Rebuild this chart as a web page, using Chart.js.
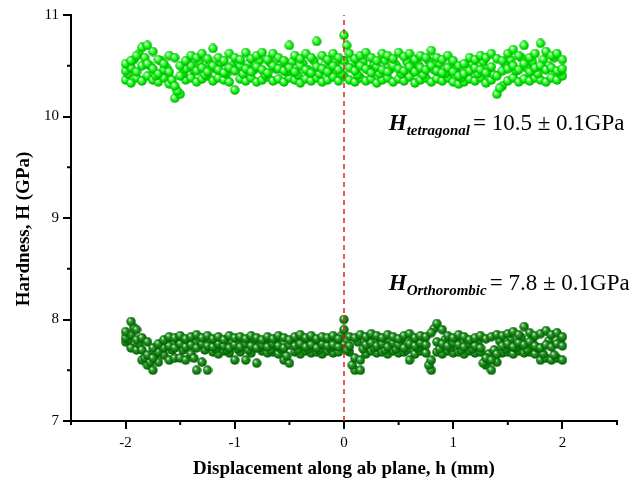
<!DOCTYPE html>
<html>
<head>
<meta charset="utf-8">
<script src="https://cdn.jsdelivr.net/npm/chart.js@4.4.1/dist/chart.umd.min.js"></script>
<style>
  body { margin: 0; background: #fff; }
  #wrap { width: 641px; height: 483px; }
</style>
</head>
<body>
<div id="wrap"><canvas id="hardnessChart" width="641" height="483"></canvas></div>
<script>
// Displacement positions (mm)
const xs = [
  -2.00,-1.95,-1.90,-1.85,-1.80,-1.75,-1.70,-1.65,-1.60,-1.55,
  -1.50,-1.45,-1.40,-1.35,-1.30,-1.25,-1.20,-1.15,-1.10,-1.05,
  -1.00,-0.95,-0.90,-0.85,-0.80,-0.75,-0.70,-0.65,-0.60,-0.55,
  -0.50,-0.45,-0.40,-0.35,-0.30,-0.25,-0.20,-0.15,-0.10,-0.05,
   0.00, 0.05, 0.10, 0.15, 0.20, 0.25, 0.30, 0.35, 0.40, 0.45,
   0.50, 0.55, 0.60, 0.65, 0.70, 0.75, 0.80, 0.85, 0.90, 0.95,
   1.00, 1.05, 1.10, 1.15, 1.20, 1.25, 1.30, 1.35, 1.40, 1.45,
   1.50, 1.55, 1.60, 1.65, 1.70, 1.75, 1.80, 1.85, 1.90, 1.95,
   2.00
];
// in-between scan positions (mm)
const xsMid = [
  -1.975,-1.925,-1.875,-1.825,-1.775,-1.725,-1.675,-1.625,-1.575,-1.525,
  -1.475,-1.425,-1.375,-1.325,-1.275,-1.225,-1.175,-1.125,-1.075,-1.025,
  -0.975,-0.925,-0.875,-0.825,-0.775,-0.725,-0.675,-0.625,-0.575,-0.525,
  -0.475,-0.425,-0.375,-0.325,-0.275,-0.225,-0.175,-0.125,-0.075,-0.025,
   0.025, 0.075, 0.125, 0.175, 0.225, 0.275, 0.325, 0.375, 0.425, 0.475,
   0.525, 0.575, 0.625, 0.675, 0.725, 0.775, 0.825, 0.875, 0.925, 0.975,
   1.025, 1.075, 1.125, 1.175, 1.225, 1.275, 1.325, 1.375, 1.425, 1.475,
   1.525, 1.575, 1.625, 1.675, 1.725, 1.775, 1.825, 1.875, 1.925, 1.975
];

// Tetragonal hardness (GPa)
const topA = [
  10.52,10.55,10.60,10.68,10.70,10.64,10.56,10.52,10.60,10.58,
  10.50,10.55,10.60,10.58,10.62,10.57,10.67,10.58,10.55,10.62,
  10.58,10.56,10.63,10.57,10.60,10.63,10.56,10.62,10.58,10.55,
  10.70,10.60,10.57,10.62,10.58,10.74,10.60,10.56,10.62,10.58,
  10.80,10.62,10.57,10.60,10.63,10.58,10.55,10.62,10.60,10.57,
  10.63,10.59,10.62,10.56,10.60,10.58,10.65,10.58,10.56,10.60,
  10.55,10.50,10.52,10.58,10.56,10.60,10.58,10.62,10.57,10.55,
  10.62,10.66,10.60,10.70,10.58,10.62,10.72,10.64,10.60,10.62,
  10.56
];
const topB = [
  10.45,10.48,10.44,10.50,10.52,10.47,10.42,10.46,10.44,10.30,
  10.40,10.47,10.50,10.45,10.48,10.44,10.50,10.46,10.43,10.48,
  10.45,10.50,10.47,10.44,10.49,10.46,10.43,10.50,10.47,10.45,
  10.48,10.44,10.50,10.46,10.43,10.49,10.47,10.44,10.50,10.46,
  10.55,10.48,10.45,10.50,10.47,10.43,10.49,10.46,10.44,10.50,
  10.47,10.45,10.49,10.44,10.48,10.46,10.50,10.45,10.43,10.48,
  10.44,10.40,10.42,10.45,10.48,10.46,10.43,10.49,10.40,10.45,
  10.47,10.50,10.46,10.52,10.44,10.48,10.50,10.46,10.48,10.45,
  10.47
];
const topC = [
  10.36,10.33,10.38,10.35,10.40,10.36,10.34,10.38,10.32,10.18,
  10.22,10.36,10.38,10.34,10.37,10.40,10.35,10.38,10.36,10.34,
  10.26,10.37,10.35,10.38,10.34,10.36,10.39,10.35,10.37,10.34,
  10.38,10.36,10.33,10.37,10.35,10.38,10.34,10.36,10.39,10.35,
  10.40,10.36,10.34,10.38,10.35,10.37,10.33,10.36,10.38,10.34,
  10.37,10.35,10.39,10.33,10.36,10.38,10.34,10.37,10.35,10.38,
  10.34,10.32,10.34,10.37,10.35,10.38,10.33,10.36,10.22,10.30,
  10.35,10.38,10.34,10.37,10.35,10.38,10.36,10.34,10.38,10.36,
  10.40
];
const topD = [
  10.42,10.56,10.62,10.58,10.50,10.40,10.55,10.48,10.36,10.25,
  10.42,10.52,10.46,10.54,10.41,10.52,10.47,10.53,10.42,10.50,
  10.54,10.42,10.52,10.46,10.55,10.41,10.53,10.47,10.52,10.44,
  10.54,10.41,10.52,10.46,10.55,10.42,10.51,10.47,10.53,10.42,
  10.70,10.52,10.41,10.54,10.46,10.52,10.42,10.55,10.47,10.51,
  10.42,10.54,10.47,10.52,10.41,10.55,10.46,10.52,10.42,10.50,
  10.46,10.38,10.45,10.52,10.42,10.54,10.47,10.41,10.28,10.52,
  10.56,10.45,10.58,10.48,10.54,10.42,10.56,10.50,10.58,10.44
];

// Orthorhombic hardness (GPa)
const botA = [
  7.88,7.98,7.90,7.82,7.78,7.72,7.76,7.80,7.83,7.82,
  7.84,7.81,7.83,7.85,7.82,7.84,7.81,7.83,7.80,7.84,
  7.82,7.83,7.81,7.84,7.82,7.80,7.83,7.81,7.84,7.82,
  7.80,7.83,7.85,7.82,7.84,7.81,7.83,7.82,7.84,7.81,
  8.00,7.83,7.82,7.85,7.83,7.86,7.84,7.82,7.85,7.83,
  7.81,7.84,7.86,7.82,7.84,7.83,7.87,7.96,7.90,7.84,
  7.82,7.85,7.83,7.80,7.82,7.84,7.81,7.83,7.85,7.84,
  7.86,7.88,7.85,7.93,7.87,7.84,7.86,7.89,7.85,7.87,
  7.83
];
const botB = [
  7.82,7.85,7.80,7.70,7.65,7.62,7.68,7.72,7.74,7.72,
  7.76,7.73,7.75,7.72,7.76,7.74,7.73,7.76,7.74,7.72,
  7.75,7.73,7.76,7.74,7.72,7.75,7.73,7.76,7.74,7.72,
  7.75,7.74,7.76,7.73,7.75,7.72,7.76,7.74,7.75,7.73,
  7.90,7.74,7.62,7.60,7.75,7.77,7.74,7.76,7.73,7.77,
  7.75,7.72,7.76,7.74,7.77,7.75,7.60,7.78,7.76,7.74,
  7.77,7.75,7.73,7.76,7.74,7.72,7.62,7.60,7.66,7.74,
  7.76,7.73,7.77,7.75,7.78,7.74,7.72,7.75,7.73,7.76,
  7.74
];
const botC = [
  7.78,7.72,7.70,7.60,7.55,7.50,7.58,7.65,7.60,7.62,
  7.62,7.60,7.66,7.50,7.58,7.50,7.68,7.66,7.69,7.67,
  7.60,7.68,7.60,7.67,7.57,7.69,7.67,7.68,7.66,7.60,
  7.57,7.68,7.66,7.69,7.67,7.68,7.66,7.69,7.67,7.68,
  7.75,7.68,7.50,7.50,7.66,7.69,7.67,7.68,7.66,7.69,
  7.67,7.68,7.60,7.66,7.69,7.67,7.50,7.68,7.66,7.69,
  7.67,7.68,7.66,7.69,7.67,7.68,7.55,7.50,7.58,7.67,
  7.68,7.66,7.69,7.67,7.68,7.66,7.60,7.62,7.60,7.62,
  7.60
];
const botD = [
  7.80,7.92,7.76,7.62,7.58,7.66,7.72,7.78,7.70,7.80,
  7.70,7.78,7.62,7.80,7.70,7.79,7.71,7.80,7.70,7.78,
  7.71,7.79,7.70,7.80,7.72,7.79,7.70,7.78,7.71,7.64,
  7.78,7.70,7.80,7.71,7.79,7.70,7.80,7.72,7.78,7.84,
  7.70,7.55,7.78,7.71,7.80,7.72,7.82,7.70,7.79,7.71,
  7.80,7.70,7.79,7.72,7.80,7.55,7.91,7.71,7.80,7.72,
  7.79,7.70,7.80,7.71,7.78,7.57,7.66,7.70,7.79,7.71,
  7.80,7.72,7.82,7.70,7.80,7.72,7.66,7.79,7.65,7.78
];

// Interface marker and axis ranges
const interfaceX = [0, 0];
const interfaceY = [7, 11];
const xRange = [-2.5, 2.5];
const yRange = [7, 11];

const SERIF = '"Liberation Serif", "Times New Roman", serif';

// Shaded sphere marker
function makeSphere(stops) {
    const size = 10;
    const c = document.createElement('canvas');
    c.width = size; c.height = size;
    const g2 = c.getContext('2d');
    const r = size / 2;
    const grad = g2.createRadialGradient(r - 1.6, r - 1.8, 0.3, r, r, r);
    grad.addColorStop(0, stops[0]);
    grad.addColorStop(0.3, stops[1]);
    grad.addColorStop(0.65, stops[2]);
    grad.addColorStop(1, stops[3]);
    g2.fillStyle = grad;
    g2.beginPath();
    g2.arc(r, r, r - 0.3, 0, Math.PI * 2);
    g2.fill();
    return c;
}

const sphereLight = makeSphere(['#ffffff', '#5cff5c', '#00e600', '#00a000']);
const sphereDark = makeSphere(['#e0f5e0', '#3a9a3a', '#0a7e0a', '#005200']);

function toPoints(rows) {
    return rows.flatMap(([px, row]) => row.map((y, i) => ({ x: px[i], y: y })));
}

function isMajor(v) {
    return Math.abs(v - Math.round(v)) < 1e-6;
}

// Minor ticks, axis titles and hardness labels
const decorPlugin = {
    id: 'decor',
    afterDraw(chart) {
        const ctx = chart.ctx;
        const xS = chart.scales.x;
        const yS = chart.scales.y;
        const area = chart.chartArea;
        ctx.save();
        ctx.strokeStyle = '#000';
        ctx.lineWidth = 2;
        xS.ticks.forEach(t => {
            if (isMajor(t.value)) return;
            const px = xS.getPixelForValue(t.value);
            ctx.beginPath();
            ctx.moveTo(px, area.bottom);
            ctx.lineTo(px, area.bottom + 4);
            ctx.stroke();
        });
        yS.ticks.forEach(t => {
            if (isMajor(t.value)) return;
            const py = yS.getPixelForValue(t.value);
            ctx.beginPath();
            ctx.moveTo(area.left, py);
            ctx.lineTo(area.left - 4, py);
            ctx.stroke();
        });

        // axis titles
        ctx.fillStyle = '#000';
        ctx.font = 'bold 19px ' + SERIF;
        ctx.textAlign = 'center';
        ctx.textBaseline = 'middle';
        ctx.fillText('Displacement along ab plane, h (mm)', (area.left + area.right) / 2, 469);
        ctx.save();
        ctx.translate(24, 229);
        ctx.rotate(-Math.PI / 2);
        ctx.fillText('Hardness, H (GPa)', 0, 0);
        ctx.restore();

        // hardness labels
        ctx.textAlign = 'left';
        ctx.textBaseline = 'alphabetic';
        const notes = [
            { x: 0.41, y: 9.87, sub: 'tetragonal', rest: '= 10.5 \u00b1 0.1GPa' },
            { x: 0.41, y: 8.29, sub: 'Orthorombic', rest: '= 7.8 \u00b1 0.1GPa' }
        ];
        notes.forEach(n => {
            let px = xS.getPixelForValue(n.x);
            const py = yS.getPixelForValue(n.y);
            ctx.font = 'bold italic 23px ' + SERIF;
            ctx.fillText('H', px, py);
            px += ctx.measureText('H').width;
            ctx.font = 'bold italic 15px ' + SERIF;
            ctx.fillText(n.sub, px, py + 5);
            px += ctx.measureText(n.sub).width + 3;
            ctx.font = '23px ' + SERIF;
            ctx.fillText(n.rest, px, py);
        });
        ctx.restore();
    }
};

new Chart(document.getElementById('hardnessChart'), {
    type: 'scatter',
    data: {
        datasets: [
            {
                label: 'interface',
                type: 'line',
                data: interfaceX.map((x, i) => ({ x: x, y: interfaceY[i] })),
                borderColor: '#e02424',
                borderWidth: 1.5,
                borderDash: [5, 4],
                pointRadius: 0,
                fill: false,
                order: -1
            },
            {
                label: 'Tetragonal',
                data: toPoints([[xs, topC], [xsMid, topD], [xs, topB], [xs, topA]]),
                pointStyle: sphereLight,
                pointRadius: 5
            },
            {
                label: 'Orthorombic',
                data: toPoints([[xs, botC], [xsMid, botD], [xs, botB], [xs, botA]]),
                pointStyle: sphereDark,
                pointRadius: 5
            }
        ]
    },
    options: {
        responsive: false,
        animation: false,
        layout: { padding: { top: 15, right: 24, bottom: 0, left: 0 } },
        plugins: {
            legend: { display: false },
            tooltip: { enabled: false }
        },
        scales: {
            x: {
                type: 'linear',
                min: xRange[0],
                max: xRange[1],
                afterFit(scale) { scale.height = 62; },
                border: { display: true, color: '#000', width: 2 },
                grid: {
                    drawOnChartArea: false,
                    drawTicks: true,
                    tickLength: 8,
                    lineWidth: 2,
                    color: c => isMajor(c.tick.value) ? '#000' : 'rgba(0,0,0,0)'
                },
                ticks: {
                    stepSize: 0.5,
                    padding: 5,
                    color: '#000',
                    font: { family: SERIF, size: 15 },
                    maxRotation: 0,
                    autoSkip: false,
                    callback: v => isMajor(v) ? String(Math.round(v)) : ''
                }
            },
            y: {
                type: 'linear',
                min: yRange[0],
                max: yRange[1],
                afterFit(scale) { scale.width = 71; },
                border: { display: true, color: '#000', width: 2 },
                grid: {
                    drawOnChartArea: false,
                    drawTicks: true,
                    tickLength: 8,
                    lineWidth: 2,
                    color: c => isMajor(c.tick.value) ? '#000' : 'rgba(0,0,0,0)'
                },
                ticks: {
                    stepSize: 0.5,
                    padding: 4,
                    color: '#000',
                    font: { family: SERIF, size: 15 },
                    autoSkip: false,
                    callback: v => isMajor(v) ? String(Math.round(v)) : ''
                }
            }
        }
    },
    plugins: [decorPlugin]
});
</script>
</body>
</html>
